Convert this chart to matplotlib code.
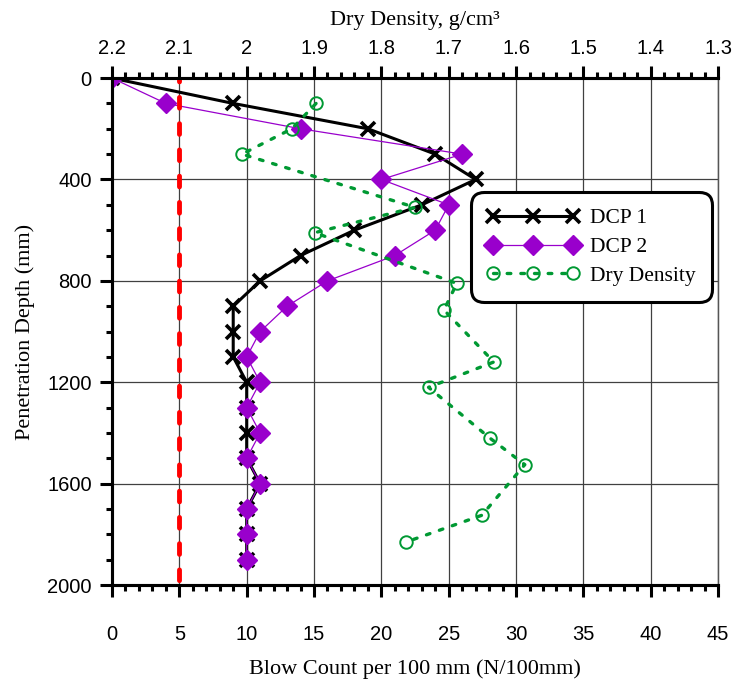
import matplotlib
matplotlib.use('Agg')
import matplotlib.pyplot as plt
from matplotlib.ticker import MultipleLocator

# DCP blow counts every 100 mm
depth_dcp = [0, 100, 200, 300, 400, 500, 600, 700, 800, 900, 1000,
             1100, 1200, 1300, 1400, 1500, 1600, 1700, 1800, 1900]
dcp1 = [0, 9, 19, 24, 27, 23, 18, 14, 11, 9, 9, 9, 10, 10, 10, 10, 11, 10, 10, 10]
dcp2 = [0, 4, 14, 26, 20, 25, 24, 21, 16, 13, 11, 10, 11, 10, 11, 10, 11, 10, 10, 10]

# dry density samples (top axis)
depth_dd = [100, 200, 300, 510, 610, 810, 915, 1120, 1220, 1420, 1525, 1725, 1830]
dry_density = [1.897, 1.933, 2.007, 1.750, 1.899, 1.688, 1.707, 1.633, 1.730,
               1.639, 1.587, 1.651, 1.763]

# criterion line
crit_x = [5, 5]
crit_depth = [0, 2000]

serif = 'Liberation Serif'
sans = 'Liberation Sans'
tick_fs = 14.5
title_fs = 16

fig = plt.figure(figsize=(7.32, 6.79), dpi=100)
ax = fig.add_axes([0.153, 0.1384, 0.828, 0.7466])

ax.plot(dcp1, depth_dcp, color='black', lw=2.2, marker='x', ms=9.5, mew=2.6,
        label='DCP 1', zorder=3)
ax.plot(dcp2, depth_dcp, color='#9900CC', lw=0.9, marker='D', ms=10,
        mec='#9900CC', label='DCP 2', zorder=4)
ax.plot(crit_x, crit_depth, color='#FF0000', lw=3.5,
        linestyle=(1.5, (2.2, 3.2)), dash_capstyle='round', zorder=5)

ax.set_xlim(0, 45)
ax.set_ylim(2000, 0)
ax.xaxis.set_major_locator(MultipleLocator(5))
ax.xaxis.set_minor_locator(MultipleLocator(1))
ax.yaxis.set_major_locator(MultipleLocator(400))
ax.yaxis.set_minor_locator(MultipleLocator(100))
ax.grid(True, which='major', color='#404040', lw=0.9)
ax.set_axisbelow(True)

for s in ['left', 'bottom', 'top']:
    ax.spines[s].set_linewidth(2.2)
ax.spines['right'].set_linewidth(0.9)
ax.spines['right'].set_color('#555555')

ax.tick_params(axis='both', which='major', direction='out', length=8.5, width=2.2,
               labelsize=tick_fs)
ax.tick_params(axis='both', which='minor', direction='out', length=4, width=2.2)
ax.tick_params(axis='x', which='major', pad=20)
ax.tick_params(axis='y', which='major', pad=6)
ax.tick_params(axis='y', which='both', right=False)
for lab in ax.get_xticklabels() + ax.get_yticklabels():
    lab.set_fontfamily(sans)

ax.set_xlabel('Blow Count per 100 mm (N/100mm)', fontfamily=serif, fontsize=title_fs,
              labelpad=11)
ax.set_ylabel('Penetration Depth (mm)', fontfamily=serif, fontsize=title_fs,
              labelpad=9)

# top axis: dry density
ax2 = ax.twiny()
ax2.plot(dry_density, depth_dd, color='#009933', lw=2.4,
         linestyle=(0, (1.1, 3.0)), dash_capstyle='round',
         marker='o', ms=9, mfc='none', mec='#009933', mew=1.4,
         label='Dry Density', zorder=3)
ax2.set_xlim(2.2, 1.3)
ax2.xaxis.set_major_locator(MultipleLocator(0.1))
ax2.xaxis.set_minor_locator(MultipleLocator(0.02))
ax2.tick_params(axis='x', which='major', direction='out', length=8.5, width=2.2,
                labelsize=tick_fs, pad=6)
ax2.tick_params(axis='x', which='minor', direction='out', length=4, width=2.2)
ax2.xaxis.set_major_formatter(plt.FuncFormatter(lambda v, p: f'{v:.1f}'.rstrip('0').rstrip('.')))
for lab in ax2.get_xticklabels():
    lab.set_fontfamily(sans)
for s in ['left', 'bottom', 'top']:
    ax2.spines[s].set_linewidth(2.2)
ax2.spines['right'].set_linewidth(0.9)
ax2.spines['right'].set_color('#555555')
ax2.set_xlabel('Dry Density, g/cm³', fontfamily=serif, fontsize=title_fs, labelpad=10)

h1, l1 = ax.get_legend_handles_labels()
h2, l2 = ax2.get_legend_handles_labels()
leg = ax2.legend(h1 + h2, l1 + l2, loc='upper right', bbox_to_anchor=(0.99, 0.775),
                 numpoints=3, handlelength=4.3, fancybox=True, framealpha=1,
                 prop={'family': serif, 'size': 15.5}, borderpad=0.75,
                 borderaxespad=0, labelspacing=0.4, handletextpad=0.5)
frame = leg.get_frame()
frame.set_edgecolor('black')
frame.set_linewidth(2.2)
frame.set_boxstyle('round,pad=0,rounding_size=0.6')

fig.savefig('out.png', dpi=100)
